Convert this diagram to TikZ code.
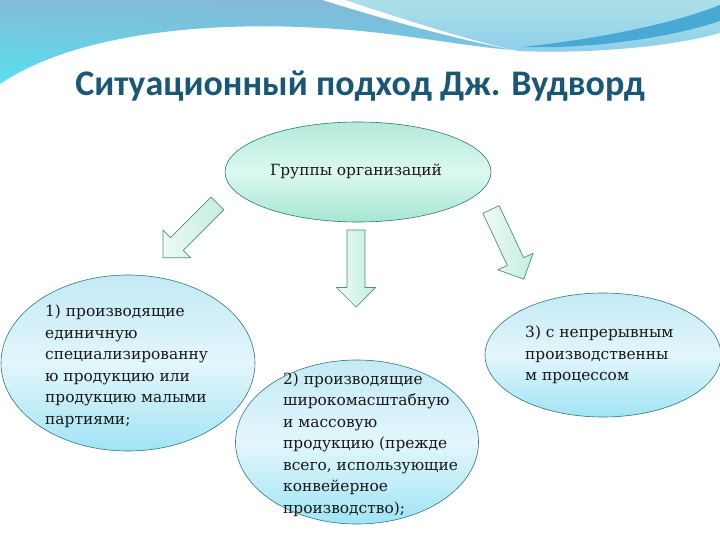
\documentclass[tikz,border=0pt]{standalone}
\usepackage{fontspec}
\setmainfont{DejaVu Serif}
\newfontfamily\titlefont{Carlito}
\usetikzlibrary{shapes.geometric,shadings}
\definecolor{titleblue}{RGB}{24,88,116}
\definecolor{waveAul}{RGB}{132,188,214}
\definecolor{waveAur}{RGB}{128,184,214}
\definecolor{waveAll}{RGB}{88,224,240}
\definecolor{waveAlr}{RGB}{112,206,230}
\definecolor{waveBtop}{RGB}{172,224,232}
\definecolor{waveBbot}{RGB}{140,206,234}
\definecolor{waveBand}{RGB}{72,170,212}
\definecolor{edgeteal}{RGB}{48,118,122}
\definecolor{mintA}{RGB}{178,234,218}
\definecolor{mintB}{RGB}{220,248,240}
\definecolor{mintC}{RGB}{166,230,210}
\definecolor{blueA}{RGB}{196,234,245}
\definecolor{blueB}{RGB}{226,246,251}
\definecolor{blueC}{RGB}{160,228,244}
\definecolor{arrowA}{RGB}{236,250,245}
\definecolor{arrowB}{RGB}{196,238,222}
\tikzset{
  ovalbase/.style={ellipse, draw=edgeteal, line width=0.6pt, inner sep=0pt},
  mintoval/.style={ovalbase, top color=mintA, bottom color=mintC, middle color=mintB},
  blueoval/.style={ovalbase, top color=blueA, bottom color=blueC, middle color=blueB},
  txt/.style={font=\fontsize{15.4}{21.5}\selectfont, align=left, inner sep=0pt, text=black!90},
  arrowline/.style={draw=edgeteal!85, line width=0.7pt, left color=arrowA, right color=arrowB},
  blockarrow/.pic={\draw[arrowline] (0,-9) -- (57.5,-9) -- (57.5,-19.5) -- (77,0) -- (57.5,19.5) -- (57.5,9) -- (0,9) -- cycle;}
}
\begin{document}
\begin{tikzpicture}[x=1pt,y=-1pt]
\useasboundingbox (0,0) rectangle (720,540);
\fill[white] (0,0) rectangle (720,540);
% top-right light wave
\shade[top color=waveBtop, bottom color=waveBbot]
  (345,0) -- (720,0) -- (720,33) .. controls (670,47) and (590,54) .. (518,51)
  .. controls (460,38) and (400,18) .. (345,0) -- cycle;
\fill[waveBand] (522,47) .. controls (590,40) and (670,25) .. (720,5) -- (720,21)
  .. controls (670,38) and (590,49) .. (522,47) -- cycle;
% top-left blue wave
\shade[upper left=waveAul, upper right=waveAur, lower left=waveAll, lower right=waveAlr]
  (0,0) -- (322,0) .. controls (380,18) and (450,38) .. (513,50)
  .. controls (460,46) and (390,31) .. (320,28)
  .. controls (220,22) and (80,30) .. (0,84) -- cycle;
% title
\node[font=\titlefont\bfseries\fontsize{36}{40}\selectfont, text=titleblue, anchor=base, inner sep=0pt] (title) at (360,96) {Ситуационный подход Дж. Вудворд};
% ovals
\node[mintoval, minimum width=266pt, minimum height=100pt] (grp) at (358,172) {};
\node[txt, anchor=base] (grpt) at (356,176) {Группы организаций};
\node[blueoval, minimum width=254pt, minimum height=176pt] (e1) at (128,363) {};
\node[blueoval, minimum width=236pt, minimum height=124pt] (e3) at (603,355) {};
\node[blueoval, minimum width=243pt, minimum height=164pt] (e2) at (357,442) {};
\node[txt, anchor=north west] (t1) at (45,305) {1) производящие\\единичную\\специализированну\\ю продукцию или\\продукцию малыми\\партиями;};
\node[txt, anchor=north west] (t2) at (283,372.5) {2) производящие\\широкомасштабную\\и массовую\\продукцию (прежде\\всего, использующие\\конвейерное\\производство);};
\node[txt, anchor=north west] (t3) at (525,326) {3) с непрерывным\\производственны\\м процессом};
% block arrows
\pic[rotate=-135] (a1) at (217.5,203.3) {blockarrow};
\pic[rotate=-90] (a2) at (356,230) {blockarrow};
\pic[rotate=-64.8] (a3) at (491,209.5) {blockarrow};
\end{tikzpicture}
\end{document}
